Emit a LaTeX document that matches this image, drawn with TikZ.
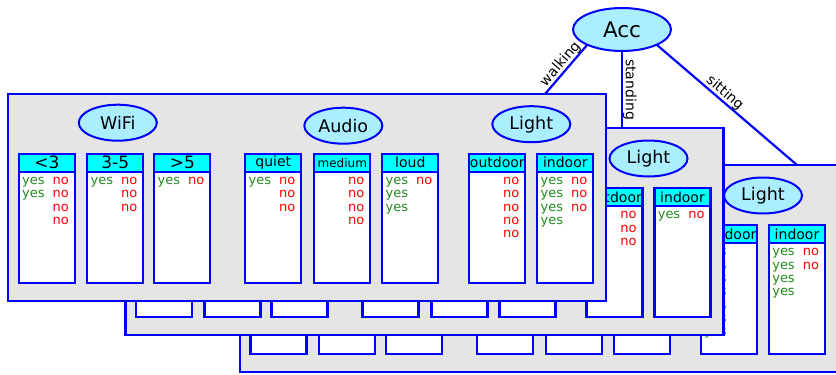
\documentclass[tikz,border=0pt]{standalone}
\usepackage{fontspec}
\setmainfont{DejaVu Sans}
\usepackage{tikz}
\usetikzlibrary{positioning,shapes.geometric}

\definecolor{panelgray}{RGB}{229,229,229}
\definecolor{featblue}{RGB}{170,238,255}
\definecolor{headcyan}{RGB}{0,255,255}
\definecolor{yesgreen}{RGB}{34,139,34}
\definecolor{nored}{RGB}{255,0,0}

\newcommand{\yes}{\textcolor{yesgreen}{yes}}
\newcommand{\no}{\textcolor{nored}{no}}
\newcommand{\hdbig}{\fontsize{17}{18}\selectfont}
\newcommand{\hdsmall}{\fontsize{12}{13}\selectfont}

\tikzset{
  every node/.style={outer sep=0pt},
  panel/.style={draw=blue, fill=panelgray, line width=2.2pt, anchor=north west,
    minimum width=598, minimum height=207},
  feature/.style={ellipse, draw=blue, fill=featblue, line width=2pt, inner sep=0pt,
    minimum width=78, minimum height=36, font=\fontsize{17.5}{19}\selectfont},
  root/.style={feature, minimum width=98, minimum height=43, font=\fontsize{21.5}{23}\selectfont},
  colhead/.style={draw=blue, fill=headcyan, line width=2.2pt, inner sep=0pt,
    minimum width=56, minimum height=18, font=\fontsize{14}{15}\selectfont},
  colbody/.style={draw=blue, fill=white, line width=2.2pt, minimum width=56, minimum height=111},
  rowtxt/.style={anchor=north west, inner sep=0pt, xshift=3.3pt, yshift=-3.5pt,
    font=\fontsize{13}{13.3}\selectfont},
  edge/.style={draw=blue, line width=2.2pt},
  elabel/.style={sloped, above, inner sep=1pt, font=\fontsize{14}{15}\selectfont}
}

% one panel: sensors with their value columns
\newcommand{\sensorpanel}[1]{%
  \node (#1) [panel] at (0,0) {};
  \node (#1-wifi)  [feature] at (109.5,29) {WiFi};
  \node (#1-audio) [feature] at (335,32)   {Audio};
  \node (#1-light) [feature] at (523,30.5) {Light};
  \foreach \k/\cx/\lab in {1/38.5/{\hdbig <3}, 2/107/{\hdbig 3-5}, 3/174/{\hdbig >5},
      4/265/quiet, 5/334/{\hdsmall medium}, 6/402/loud, 7/489/outdoor, 8/557/indoor} {
    \node (#1-h\k) [colhead] at (\cx,69) {\lab};
    \node (#1-b\k) [colbody, below=0pt of #1-h\k] {};
  }
}

% answers listed in a column body
\newcommand{\answers}[2]{%
  \node (#1-t) [rowtxt] at (#1.north west)
    {\begin{tabular}{@{}p{30.6pt}@{}l@{}}#2\end{tabular}};
}

\begin{document}
\begin{tikzpicture}[x=1pt, y=-1pt]
\useasboundingbox (0,0) rectangle (836,375);

% sitting
\begin{scope}[shift={(240,165)}]
  \sensorpanel{sit}
  \answers{sit-b7}{\yes\\ \yes\\ \yes\\ \yes\\ \yes\\ \yes\\ \yes}
  \answers{sit-b8}{\yes & \no\\ \yes & \no\\ \yes\\ \yes}
  \coordinate (sitend) at (557,0);
\end{scope}

% standing
\begin{scope}[shift={(125.5,128)}]
  \sensorpanel{stand}
  \answers{stand-b7}{& \no\\ & \no\\ & \no}
  \answers{stand-b8}{\yes & \no}
\end{scope}

% walking
\begin{scope}[shift={(8.3,93.7)}]
  \sensorpanel{walk}
  \answers{walk-b1}{\yes & \no\\ \yes & \no\\ & \no\\ & \no}
  \answers{walk-b2}{\yes & \no\\ & \no\\ & \no}
  \answers{walk-b3}{\yes & \no}
  \answers{walk-b4}{\yes & \no\\ & \no\\ & \no}
  \answers{walk-b5}{& \no\\ & \no\\ & \no\\ & \no}
  \answers{walk-b6}{\yes & \no\\ \yes\\ \yes}
  \answers{walk-b7}{& \no\\ & \no\\ & \no\\ & \no\\ & \no}
  \answers{walk-b8}{\yes & \no\\ \yes & \no\\ \yes & \no\\ \yes}
  \coordinate (walkend) at (537,0);
\end{scope}

\node (acc) [root] at (622,29.5) {Acc};

\draw[edge] (acc.south west) -- (walkend) node[elabel, midway] {walking};
\draw[edge] (acc.south) -- (acc.south |- stand.north) node[elabel, midway] {standing};
\draw[edge] (acc.south east) -- (sitend) node[elabel, pos=0.45] {sitting};
\end{tikzpicture}
\end{document}
